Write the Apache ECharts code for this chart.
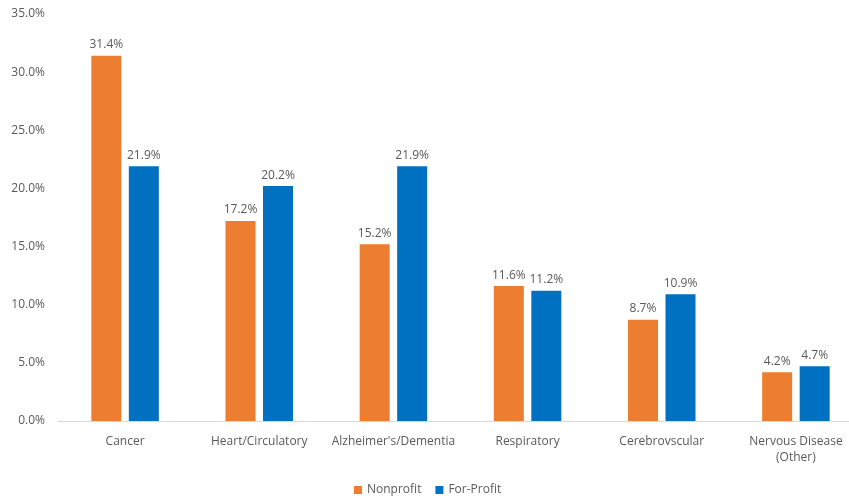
<!DOCTYPE html>
<html><head><meta charset="utf-8">
<script src="https://cdn.jsdelivr.net/npm/echarts@6/dist/echarts.min.js"></script>
<style>html,body{margin:0;padding:0;background:#fff;overflow:hidden;width:849px;height:501px}#c{width:863px;height:501px}</style>
</head><body><div id="c"></div>
<script>
var categories = ["Cancer", "Heart/Circulatory", "Alzheimer's/Dementia", "Respiratory", "Cerebrovscular", "Nervous Disease\n(Other)"];
var nonprofit = [31.4, 17.2, 15.2, 11.6, 8.7, 4.2];
var forProfit = [21.9, 20.2, 21.9, 11.2, 10.9, 4.7];
var seriesNames = ["Nonprofit", "For-Profit"];

var font = "Open Sans";
var txt = "#595959";
var chart = echarts.init(document.getElementById('c'), null, {renderer: 'canvas'});
var lbl = {show: true, position: 'top', distance: 5, color: txt, fontFamily: font, fontSize: 12, formatter: function(p){return p.value.toFixed(1) + '%';}};
chart.setOption({
  animation: false,
  textStyle: {fontFamily: font},
  grid: {left: 58, top: 14, right: 0, bottom: 80, containLabel: false},
  legend: {bottom: 0, left: 349, itemWidth: 8, itemHeight: 8, itemGap: 14,
    textStyle: {color: txt, fontFamily: font, fontSize: 12}, icon: 'rect', data: seriesNames},
  xAxis: {type: 'category', data: categories,
    axisLine: {lineStyle: {color: '#d9d9d9'}}, axisTick: {show: false},
    axisLabel: {color: txt, fontFamily: font, fontSize: 12, margin: 13, interval: 0, lineHeight: 16}},
  yAxis: {type: 'value', min: 0, max: 35, interval: 5,
    axisLine: {show: false}, axisTick: {show: false}, splitLine: {show: false},
    axisLabel: {color: txt, fontFamily: font, fontSize: 12, margin: 13, formatter: function(v){return v.toFixed(1) + '%';}}},
  series: [
    {name: seriesNames[0], type: 'bar', data: nonprofit, barWidth: 30, barGap: '25%', itemStyle: {color: '#ED7D31'}, label: lbl},
    {name: seriesNames[1], type: 'bar', data: forProfit, barWidth: 30, barGap: '25%', itemStyle: {color: '#0070C0'}, label: lbl}
  ]
});
</script></body></html>
